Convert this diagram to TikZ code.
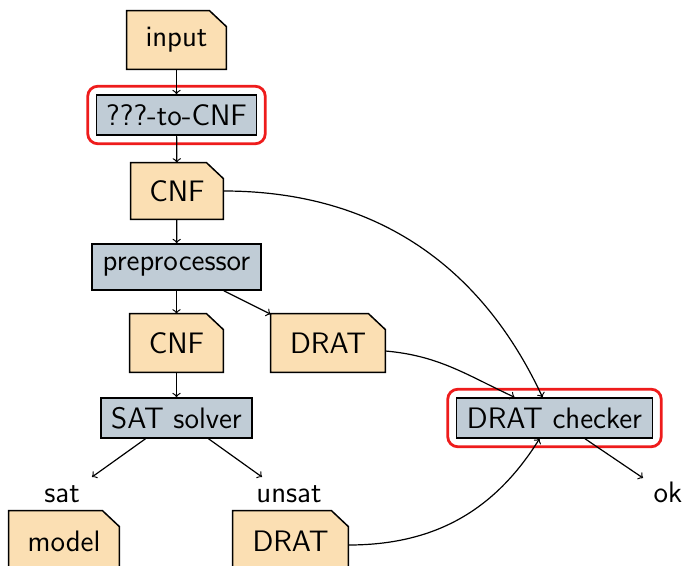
\documentclass[tikz,border=0pt]{standalone}
\usetikzlibrary{backgrounds,fit}
\definecolor{docfill}{HTML}{FBDFB3}
\definecolor{toolfill}{HTML}{C0CCD6}
\definecolor{hlred}{HTML}{EE1C1C}
\newcommand\docoutline[1]{%
  \filldraw[docline] (#1.south west) -- (#1.north west) -- ([xshift=-8.5pt]#1.north east)
    -- ([yshift=-8pt]#1.north east) -- (#1.south east) -- cycle;}
\begin{document}
\begin{tikzpicture}[x=0.5pt,y=-0.5pt,
  font=\fontsize{14.8}{17}\selectfont\sffamily,
  tool/.style={draw, fill=toolfill, line width=0.75pt, inner sep=0pt},
  docnode/.style={inner sep=0pt},
  docline/.style={fill=docfill, draw=black, line width=0.75pt},
  hl/.style={draw=hlred, line width=1.4pt, rounded corners=5pt, inner sep=4pt},
  lbl/.style={inner sep=0pt, anchor=base},
  arr/.style={->, line width=0.6pt}]
\useasboundingbox (0,0) rectangle (684,566);
\node[docnode, minimum width=49.5pt, minimum height=29pt] (input) at (176.5,40) {input};
\node[tool, minimum width=80pt, minimum height=20pt] (tocnf) at (176.5,115) {???-to-CNF};
\node[docnode, minimum width=46pt, minimum height=28pt] (cnf1) at (177,191) {CNF};
\node[tool, minimum width=84.5pt, minimum height=23pt] (pre) at (176.5,267) {preprocessor};
\node[docnode, minimum width=46.5pt, minimum height=29pt] (cnf2) at (176.5,343) {CNF};
\node[docnode, minimum width=57pt, minimum height=29pt] (drat1) at (328,343) {DRAT};
\node[tool, minimum width=75.5pt, minimum height=20pt] (solver) at (176.5,418) {SAT solver};
\node[tool, minimum width=98pt, minimum height=20pt] (checker) at (554.5,418) {DRAT checker};
\node[lbl] (sat) at (62,502) {sat};
\node[lbl] (unsat) at (289,502) {unsat};
\node[lbl] (ok) at (668,502) {ok};
\node[docnode, minimum width=55pt, minimum height=30pt] (model) at (64,541) {model};
\node[docnode, minimum width=57.5pt, minimum height=30pt] (drat2) at (290.5,541) {DRAT};
\node[hl, fit=(tocnf)] (hl1) {};
\node[hl, fit=(checker)] (hl2) {};
\begin{scope}[on background layer]
  \docoutline{input}
  \docoutline{cnf1}
  \docoutline{cnf2}
  \docoutline{drat1}
  \docoutline{model}
  \docoutline{drat2}
\end{scope}
\coordinate (satend) at (92,477);
\coordinate (unsatend) at (262,477);
\coordinate (okend) at (643,478);
\draw[arr] (input) -- (tocnf);
\draw[arr] (tocnf) -- (cnf1);
\draw[arr] (cnf1) -- (pre);
\draw[arr] (pre) -- (cnf2);
\draw[arr] (pre) -- (drat1);
\draw[arr] (cnf2) -- (solver);
\draw[arr] ([xshift=-15.5pt]solver.south) -- (satend);
\draw[arr] ([xshift=16pt]solver.south) -- (unsatend);
\draw[arr] ([xshift=15.25pt]checker.south) -- (okend);
\draw[arr] (cnf1.east) to[out=0,in=115] ([xshift=-6pt]checker.north);
\draw[arr] ([yshift=-4pt]drat1.east) to[out=-5,in=155] ([xshift=-20pt]checker.north);
\draw[arr] ([yshift=-2pt]drat2.east) to[out=0,in=-122] ([xshift=-7.5pt]checker.south);
\end{tikzpicture}
\end{document}
